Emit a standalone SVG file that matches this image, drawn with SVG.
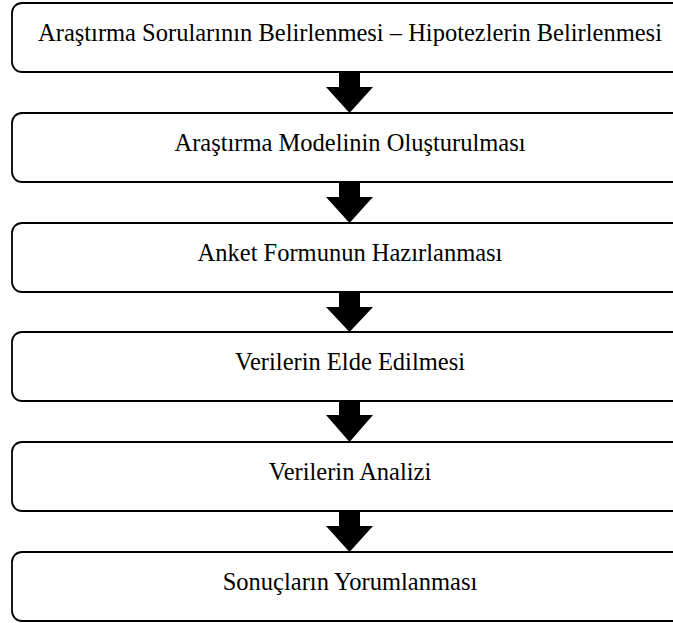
<svg xmlns="http://www.w3.org/2000/svg" width="673" height="623" viewBox="0 0 673 623">
<style>
.box{fill:#fff;stroke:#000;stroke-width:1.8}
.lbl{font-family:"Liberation Serif","Times New Roman",serif;font-size:24.5px;fill:#000;text-anchor:middle}
.arr{fill:#000}
</style>
<rect width="673" height="623" fill="#fff"/>
<g id="n1"><rect class="box" x="12" y="3" width="680" height="69" rx="10"/><text class="lbl" x="350" y="41">Araştırma Sorularının Belirlenmesi – Hipotezlerin Belirlenmesi</text></g>
<g id="n2"><rect class="box" x="12" y="113" width="680" height="69" rx="10"/><text class="lbl" x="350" y="151">Araştırma Modelinin Oluşturulması</text></g>
<g id="n3"><rect class="box" x="12" y="223" width="680" height="69" rx="10"/><text class="lbl" x="350" y="261">Anket Formunun Hazırlanması</text></g>
<g id="n4"><rect class="box" x="12" y="332" width="680" height="69" rx="10"/><text class="lbl" x="350" y="370">Verilerin Elde Edilmesi</text></g>
<g id="n5"><rect class="box" x="12" y="442" width="680" height="69" rx="10"/><text class="lbl" x="350" y="480">Verilerin Analizi</text></g>
<g id="n6"><rect class="box" x="12" y="552" width="680" height="69" rx="10"/><text class="lbl" x="350" y="590">Sonuçların Yorumlanması</text></g>
<g id="connectors">
<path class="arr" d="M339,72 H360 V87 H373 L349.5,113 L326,87 H339 Z"/>
<path class="arr" d="M339,182 H360 V197 H373 L349.5,223 L326,197 H339 Z"/>
<path class="arr" d="M339,292 H360 V307 H373 L349.5,332 L326,307 H339 Z"/>
<path class="arr" d="M339,401 H360 V415 H373 L349.5,442 L326,415 H339 Z"/>
<path class="arr" d="M339,511 H360 V526 H373 L349.5,552 L326,526 H339 Z"/>
</g>
</svg>
